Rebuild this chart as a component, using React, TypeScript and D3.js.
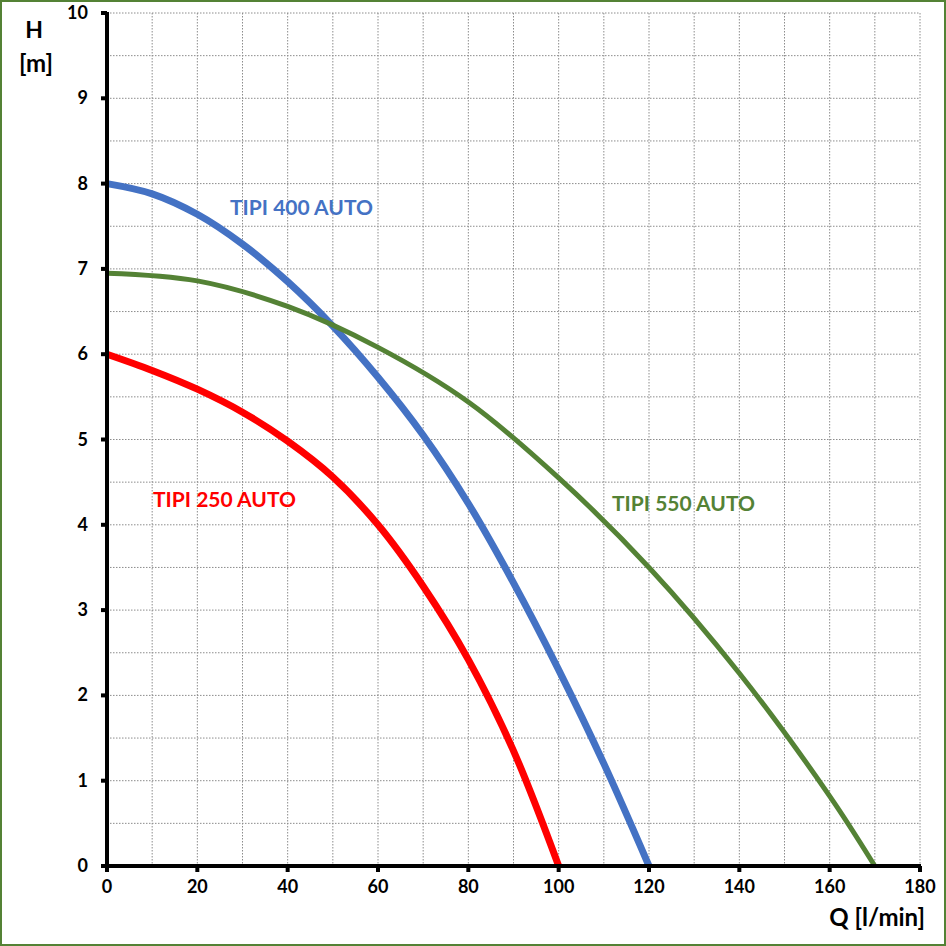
import React from 'react'
import * as d3 from 'd3'

const flowTicks = [0, 20, 40, 60, 80, 100, 120, 140, 160, 180]
const headTicks = [0, 1, 2, 3, 4, 5, 6, 7, 8, 9, 10]

// TIPI 250 AUTO
const q250 = [0, 10, 20, 30, 40, 50, 60, 70, 80, 90, 100]
const h250 = [6.0, 5.81, 5.59, 5.32, 4.98, 4.56, 4.0, 3.28, 2.42, 1.35, 0]
// TIPI 400 AUTO
const q400 = [0, 10, 20, 30, 40, 50, 60, 70, 80, 90, 100, 110, 120]
const h400 = [8.0, 7.88, 7.64, 7.29, 6.85, 6.33, 5.73, 5.05, 4.25, 3.32, 2.3, 1.2, 0]
// TIPI 550 AUTO
const q550 = [0, 20, 40, 60, 80, 100, 120, 140, 160, 170]
const h550 = [6.95, 6.86, 6.56, 6.08, 5.44, 4.55, 3.5, 2.26, 0.82, 0]

const series = [
  { name: 'TIPI 400 AUTO', q: q400, h: h400, color: '#4472C4', width: 7, lx: 230, ly: 215 },
  { name: 'TIPI 550 AUTO', q: q550, h: h550, color: '#548235', width: 5, lx: 612, ly: 511 },
  { name: 'TIPI 250 AUTO', q: q250, h: h250, color: '#FF0000', width: 7, lx: 153, ly: 507 },
]

const W = 946
const H = 946
const left = 107
const right = 920
const top = 13
const bottom = 866
const font = 'Lato, "Open Sans", sans-serif'

export default function App() {
  const x = d3.scaleLinear().domain([0, 180]).range([left, right])
  const y = d3.scaleLinear().domain([0, 10]).range([bottom, top])
  const line = d3
    .line<[number, number]>()
    .x((d) => x(d[0]))
    .y((d) => y(d[1]))
    .curve(d3.curveCatmullRom.alpha(0.5))

  const vGrid = d3.range(10, 190, 10)
  const hGrid = d3.range(0.5, 10.5, 0.5)

  return (
    <svg width={W} height={H} style={{ position: 'absolute', left: 0, top: 0, background: '#fff' }}>
      <rect x={1} y={1} width={W - 2} height={H - 2} fill="#fff" stroke="#548235" strokeWidth={2} />
      {/* grid */}
      {vGrid.map((v) => (
        <line key={'v' + v} x1={x(v)} x2={x(v)} y1={top} y2={bottom} stroke="#8c8c8c" strokeWidth={1} strokeDasharray="1.5,1.5" />
      ))}
      {hGrid.map((v) => (
        <line key={'h' + v} x1={left} x2={right} y1={y(v)} y2={y(v)} stroke="#8c8c8c" strokeWidth={1} strokeDasharray="1.5,1.5" />
      ))}
      {/* curves */}
      {series.map((s) => (
        <path
          key={s.name}
          d={line(s.q.map((q, i) => [q, s.h[i]] as [number, number])) || ''}
          fill="none"
          stroke={s.color}
          strokeWidth={s.width}
        />
      ))}
      {/* axes */}
      <line x1={left} x2={left} y1={top - 1} y2={bottom + 2} stroke="#000" strokeWidth={4} />
      <line x1={left - 2} x2={right + 1} y1={bottom} y2={bottom} stroke="#000" strokeWidth={4} />
      {headTicks.map((t) => (
        <g key={'yt' + t}>
          <rect x={left - 6} y={y(t) - 2} width={6} height={4} fill="#000" />
          <text x={88} y={y(t) + 6} textAnchor="end" fontFamily={font} fontWeight="bold" fontSize={18} fill="#000">
            {t}
          </text>
        </g>
      ))}
      {flowTicks.map((t) => (
        <g key={'xt' + t}>
          <rect x={x(t) - 2} y={bottom} width={4} height={6} fill="#000" />
          <text x={x(t)} y={893} textAnchor="middle" fontFamily={font} fontWeight="bold" fontSize={18} fill="#000">
            {t}
          </text>
        </g>
      ))}
      <text x={925} y={926} textAnchor="end" fontFamily={font} fontWeight="bold" fontSize={24} fill="#000">
        Q [l/min]
      </text>
      <text x={34} y={38} textAnchor="middle" fontFamily={font} fontWeight="bold" fontSize={23} fill="#000">
        H
      </text>
      <text x={36} y={72} textAnchor="middle" fontFamily={font} fontWeight="bold" fontSize={24} fill="#000">
        [m]
      </text>
      {series.map((s) => (
        <text key={'l' + s.name} x={s.lx} y={s.ly} fontFamily={font} fontWeight="bold" fontSize={21} fill={s.color}>
          {s.name}
        </text>
      ))}
    </svg>
  )
}
